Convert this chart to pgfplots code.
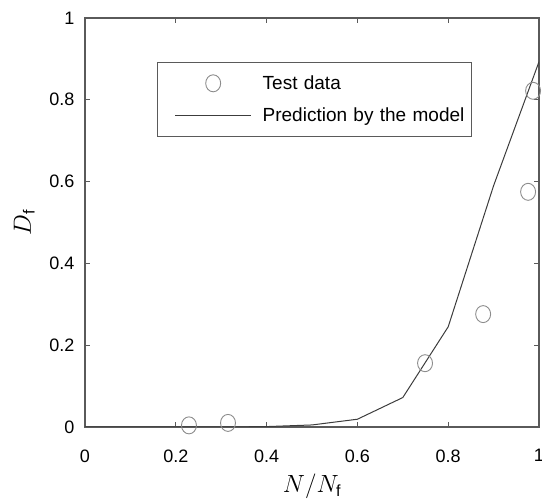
\documentclass[border=0pt]{standalone}
\usepackage{fontspec}
\setmainfont{Liberation Sans}
\usepackage{pgfplots}
\pgfplotsset{compat=1.18}
\definecolor{boxgray}{HTML}{5A5A5A}
\definecolor{linegray}{HTML}{3C3C3C}
\definecolor{markgray}{HTML}{8C8C8C}
\begin{document}
\begin{tikzpicture}
\begin{axis}[
  scale only axis,
  width=454pt, height=409pt,
  at={(0pt,0pt)}, anchor=south west,
  xmin=0, xmax=1, ymin=0, ymax=1,
  xtick={0,0.2,...,1}, ytick={0,0.2,...,1},
  tick align=inside,
  major tick length=5pt,
  axis line style={boxgray, line width=1.1pt},
  tick style={boxgray, line width=0.9pt},
  /pgf/number format/assume math mode=true,
  ticklabel style={font=\fontsize{18}{20}\selectfont},
  xticklabel style={yshift=-19pt},
  yticklabel style={xshift=-7pt},
  xlabel={$N/N_{\mathrm{f}}$},
  ylabel={$D_{\mathrm{f}}$},
  label style={font=\fontsize{23}{26}\selectfont},
  xlabel style={yshift=-5pt},
  ylabel style={yshift=8pt},
  legend image code/.code={\draw[mark repeat=2,mark phase=2,#1]
    plot coordinates {(0pt,0pt)(38pt,0pt)(76pt,0pt)};},
  legend style={
    at={(0.159,0.892)}, anchor=north west,
    draw=boxgray, line width=1pt,
    font=\fontsize{19}{22}\selectfont,
    inner xsep=17pt, inner ysep=11pt,
    row sep=13pt,
    legend cell align=left,
    nodes={inner xsep=11pt, text width=181pt},
  },
]
\addplot[only marks, mark=o, mark size=8.5pt, markgray,
  mark options={xscale=0.88, line width=0.9pt}]
  coordinates {(0.229,0.004) (0.315,0.010) (0.749,0.156) (0.877,0.276) (0.976,0.575) (0.987,0.822)};
\addlegendentry{\mbox{Test data}}
\addplot[linegray, line width=1pt] coordinates {
  (0,0) (0.1,0) (0.2,0) (0.3,0) (0.4,0.001) (0.5,0.005)
  (0.6,0.019) (0.7,0.072) (0.8,0.245) (0.9,0.59) (1.0,0.893)};
\addlegendentry{\mbox{Prediction by the model}}
\end{axis}
\pgfresetboundingbox
\useasboundingbox (-85pt,-74pt) rectangle (457pt,427pt);
\end{tikzpicture}
\end{document}
